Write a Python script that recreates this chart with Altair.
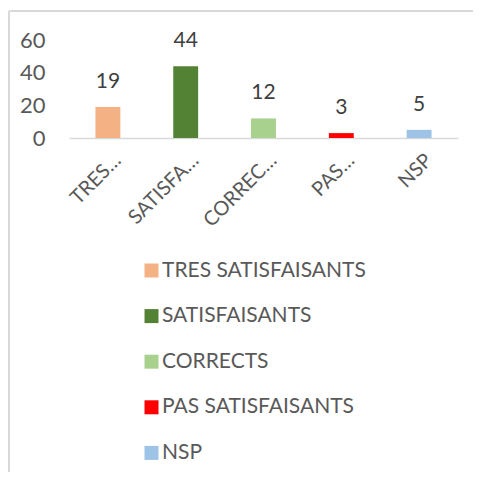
import altair as alt
import pandas as pd

categories = ["TRES SATISFAISANTS", "SATISFAISANTS", "CORRECTS", "PAS SATISFAISANTS", "NSP"]
short_labels = ["TRES…", "SATISFA…", "CORREC…", "PAS…", "NSP"]
values = [19, 44, 12, 3, 5]
colors = ["#F4B183", "#548235", "#A9D18E", "#FF0000", "#9DC3E6"]
y_ticks = [0, 20, 40, 60]

df = pd.DataFrame({"cat": categories, "val": values})

label_map = "{" + ",".join(f"'{c}':'{s}'" for c, s in zip(categories, short_labels)) + "}"

FONT = "Lato"
TXT = "#595959"

x_enc = alt.X("cat:N", sort=categories,
              scale=alt.Scale(paddingInner=0.68, paddingOuter=0.34),
              axis=alt.Axis(title=None, labelAngle=-45, labelAlign="right", labelBaseline="middle",
                            labelFontSize=20, labelColor=TXT, labelFont=FONT,
                            labelPadding=19, labelOffset=10, ticks=False, labelOverlap=False,
                            domainColor="#D9D9D9", domainWidth=1.5, labelLimit=300,
                            labelExpr=f"{label_map}[datum.value]"))
y_enc = alt.Y("val:Q", scale=alt.Scale(domain=[0, 60], nice=False),
              axis=alt.Axis(title=None, values=y_ticks, tickCount=4, grid=False, domain=False, ticks=False,
                            labelOverlap=False, labelFlush=False,
                            labelFontSize=22, labelColor=TXT, labelFont=FONT, labelPadding=24))

base = alt.Chart(df)

bars = base.mark_bar().encode(
    x=x_enc, y=y_enc,
    color=alt.Color("cat:N", sort=categories,
                    scale=alt.Scale(domain=categories, range=colors),
                    legend=alt.Legend(title=None, orient="none", legendX=72, legendY=220,
                                      direction="vertical", symbolType="square", symbolSize=196,
                                      symbolStrokeWidth=0, labelFontSize=21, labelColor=TXT,
                                      labelFont=FONT, rowPadding=23.6, padding=0, labelOffset=0,
                                      labelLimit=400)),
)

text = base.mark_text(dy=-25, fontSize=21, font=FONT, color="#404040").encode(
    x=x_enc, y=y_enc, text="val:Q"
)

border_left = alt.Chart(df).mark_rule(color="#D9D9D9", strokeWidth=2).encode(
    x=alt.value(-60), y=alt.value(-29), y2=alt.value(440)
)
border_top = alt.Chart(df).mark_rule(color="#D9D9D9", strokeWidth=2).encode(
    x=alt.value(-60), x2=alt.value(404), y=alt.value(-29)
)

chart = alt.layer(border_left, border_top, bars, text).properties(
    width=389, height=98,
    autosize=alt.AutoSizeParams(type="none"),
    padding={"left": 61, "top": 32, "right": 15, "bottom": 334},
).configure_view(stroke=None)

chart.save("out.html", embed_options={"renderer": "svg", "actions": False})
